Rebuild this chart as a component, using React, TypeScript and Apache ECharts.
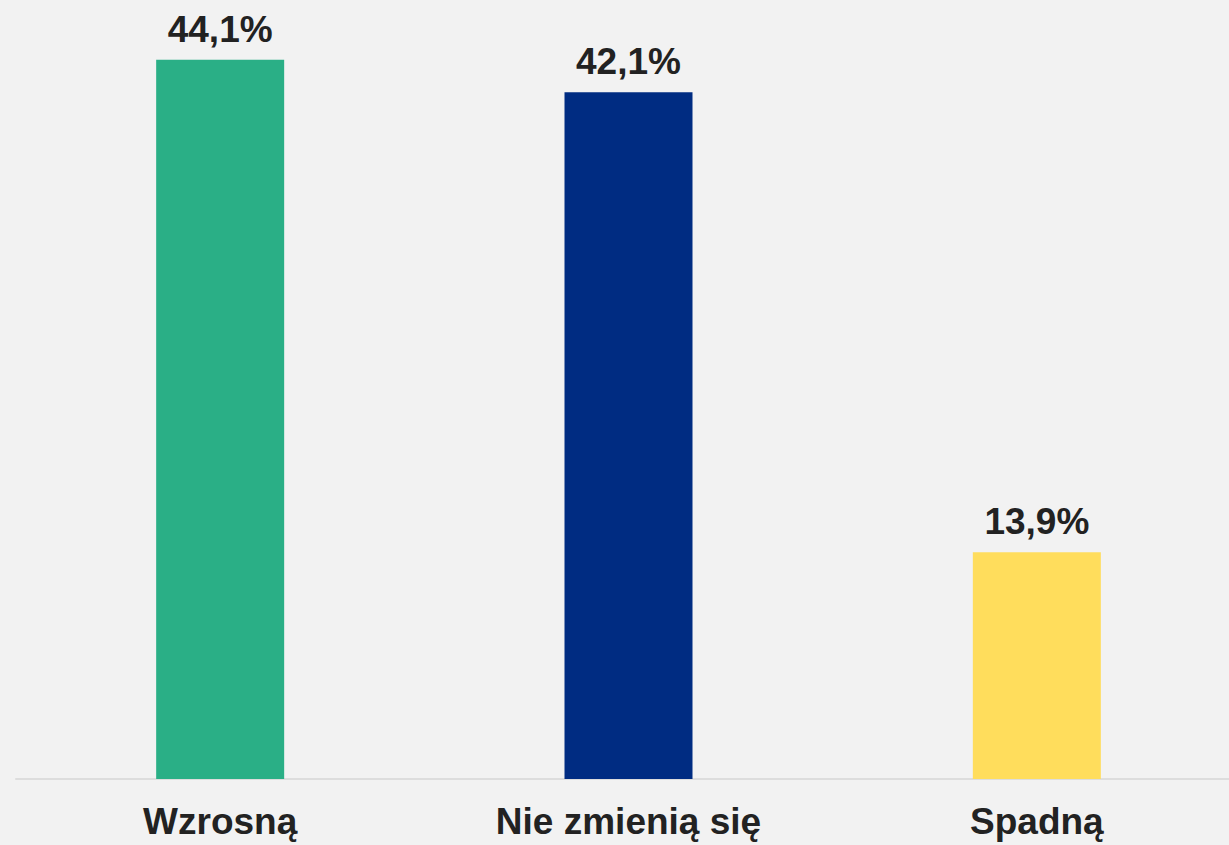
import React, { useEffect, useRef } from "react";
import * as echarts from "echarts";

const categories = ["Wzrosną", "Nie zmienią się", "Spadną"];
const values = [44.1, 42.1, 13.9];
const colors = ["#2aaf86", "#002c82", "#ffdd5c"];

export default function App() {
  const ref = useRef<HTMLDivElement>(null);
  useEffect(() => {
    const chart = echarts.init(ref.current!, null, { renderer: "svg" });
    chart.setOption({
      animation: false,
      backgroundColor: "#f2f2f2",
      grid: {
        left: 16,
        right: -12,
        top: 45,
        bottom: 66,
        containLabel: false,
        outerBoundsMode: "none",
      },
      xAxis: {
        type: "category",
        data: categories,
        axisLine: { show: true, lineStyle: { color: "#dddddd", width: 2 } },
        axisTick: { show: false },
        axisLabel: {
          margin: 24,
          fontSize: 37,
          fontWeight: "bold",
          fontFamily: "Liberation Sans, Arial, sans-serif",
          color: "#222222",
        },
      },
      yAxis: {
        type: "value",
        min: 0,
        max: 45,
        show: false,
        splitLine: { show: false },
      },
      series: [
        {
          type: "bar",
          barWidth: 128,
          data: values.map((v, i) => ({ value: v, itemStyle: { color: colors[i] } })),
          label: {
            show: true,
            position: "top",
            distance: 12,
            fontSize: 37,
            fontWeight: "bold",
            fontFamily: "Liberation Sans, Arial, sans-serif",
            color: "#222222",
            formatter: (p: any) => p.value.toFixed(1).replace(".", ",") + "%",
          },
        },
      ],
    });
    return () => chart.dispose();
  }, []);
  return (
    <div
      ref={ref}
      style={{ position: "fixed", left: 0, top: 0, width: 1229, height: 845 }}
    />
  );
}
